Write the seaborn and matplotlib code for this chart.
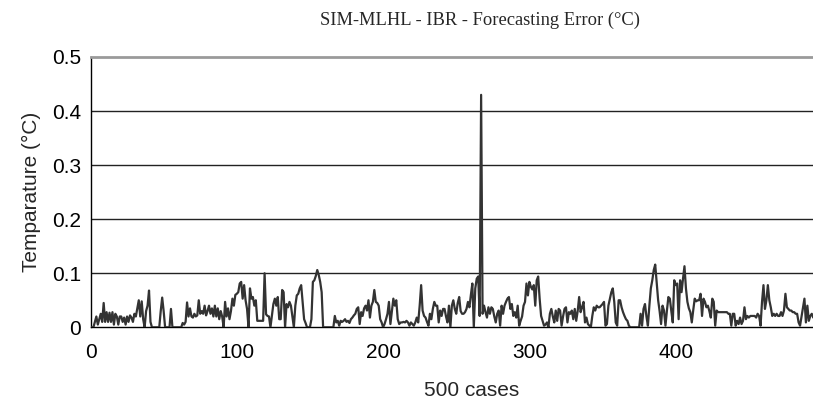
import numpy as np
import pandas as pd
import matplotlib
matplotlib.use("Agg")
import matplotlib.pyplot as plt
import seaborn as sns
from matplotlib.ticker import FixedLocator, FuncFormatter

title = "SIM-MLHL - IBR - Forecasting Error (°C)"
y_label = "Temparature (°C)"
x_label = "500 cases"

err_000_099 = [0, 0, 0, 0.01, 0.02, 0.005, 0.015, 0.025, 0.01, 0.045,
               0.01, 0.028, 0.01, 0.027, 0.01, 0.028, 0.005, 0.025, 0.02, 0.005,
               0.02, 0.02, 0.01, 0.018, 0.005, 0.02, 0.01, 0.022, 0.018, 0.01,
               0.025, 0.02, 0.035, 0.05, 0.02, 0.048, 0.015, 0, 0.03, 0.04,
               0.068, 0.01, 0, 0, 0, 0, 0, 0, 0.03, 0.055,
               0.03, 0, 0, 0, 0, 0.034, 0, 0, 0, 0,
               0, 0, 0, 0.008, 0.005, 0.01, 0.046, 0.02, 0.035, 0.02,
               0.018, 0.025, 0.02, 0.022, 0.05, 0.025, 0.03, 0.025, 0.04, 0.022,
               0.03, 0.04, 0.025, 0.035, 0.02, 0.04, 0.02, 0.035, 0.015, 0.03,
               0.02, 0, 0.047, 0.02, 0.035, 0.015, 0.03, 0.053, 0.04, 0.06]
err_100_199 = [0.062, 0.065, 0.081, 0.084, 0.053, 0.078, 0.05, 0.034, 0, 0.072,
               0.053, 0.056, 0.04, 0.05, 0.012, 0.012, 0.012, 0.012, 0.012, 0.1,
               0.024, 0.021, 0.02, 0, 0.021, 0.043, 0.053, 0.04, 0.056, 0.015,
               0.015, 0.069, 0.065, 0, 0.043, 0.037, 0.047, 0.04, 0.02, 0,
               0.04, 0.059, 0.062, 0.072, 0.078, 0.047, 0.015, 0.008, 0, 0,
               0, 0.015, 0.084, 0.087, 0.095, 0.106, 0.097, 0.084, 0.065, 0,
               0, 0, 0, 0, 0, 0, 0, 0.021, 0.009, 0.012,
               0.003, 0.012, 0.01, 0.012, 0.015, 0.01, 0.012, 0.008, 0.015, 0.018,
               0.022, 0.025, 0.034, 0.037, 0.006, 0.028, 0.021, 0.035, 0.04, 0.031,
               0.05, 0.018, 0.04, 0.047, 0.069, 0.047, 0.045, 0.04, 0.015, 0.009]
err_200_299 = [0, 0.006, 0.015, 0.025, 0.047, 0.006, 0.03, 0.053, 0.04, 0.05,
               0.015, 0.006, 0.009, 0.009, 0.01, 0.009, 0.012, 0.009, 0.003, 0.009,
               0.006, 0.003, 0.009, 0.018, 0.009, 0.04, 0.078, 0.031, 0.021, 0.018,
               0.01, 0.003, 0.025, 0.015, 0.034, 0.047, 0.04, 0.04, 0.009, 0.031,
               0.021, 0.034, 0.034, 0.02, 0.009, 0.04, 0, 0.04, 0.05, 0.034,
               0.025, 0.045, 0.056, 0.03, 0.025, 0.025, 0.028, 0.034, 0.047, 0.037,
               0.06, 0.081, 0, 0.072, 0.09, 0.094, 0.021, 0.43, 0.025, 0.04,
               0.028, 0.018, 0.037, 0.025, 0.037, 0.034, 0.02, 0.009, 0.025, 0.031,
               0.003, 0.04, 0.025, 0.04, 0.047, 0.053, 0.056, 0.034, 0.043, 0.021,
               0.028, 0.018, 0.04, 0.003, 0.012, 0.02, 0.04, 0.047, 0.081, 0.059]
err_300_399 = [0.084, 0.075, 0.07, 0.078, 0.04, 0.087, 0.094, 0.053, 0.021, 0.012,
               0.003, 0.005, 0.009, 0, 0.025, 0.034, 0.02, 0.009, 0.031, 0.012,
               0.034, 0.031, 0.003, 0.02, 0.034, 0.037, 0.009, 0.028, 0.025, 0.031,
               0.015, 0.034, 0.012, 0.03, 0.056, 0.028, 0.037, 0.047, 0.009, 0.018,
               0.006, 0.003, 0, 0.021, 0.037, 0.031, 0.04, 0.037, 0.037, 0.04,
               0.043, 0.047, 0.003, 0.006, 0.04, 0.053, 0.065, 0.072, 0.047, 0.009,
               0.003, 0.05, 0.05, 0.037, 0.028, 0.021, 0.015, 0.012, 0.003, 0,
               0, 0, 0, 0, 0, 0, 0.025, 0.003, 0.034, 0.043,
               0.02, 0.003, 0.04, 0.072, 0.087, 0.106, 0.116, 0.084, 0.05, 0.03,
               0.006, 0.04, 0.031, 0.003, 0.031, 0.056, 0.053, 0.03, 0.009, 0.087]
err_400_494 = [0.078, 0.081, 0.015, 0.087, 0.065, 0.09, 0.113, 0.072, 0.047, 0.035,
               0.028, 0.009, 0.032, 0.053, 0.048, 0.05, 0.05, 0.062, 0.021, 0.053,
               0.047, 0.037, 0.04, 0.03, 0.018, 0.053, 0.047, 0.003, 0.031, 0.028,
               0.028, 0.028, 0.028, 0.028, 0.028, 0.028, 0.025, 0.025, 0.003, 0.025,
               0.025, 0.003, 0.012, 0.006, 0.018, 0.006, 0.012, 0.037, 0.015, 0.021,
               0.018, 0.021, 0.021, 0.021, 0.021, 0.018, 0.025, 0.021, 0.003, 0.047,
               0.078, 0.034, 0.05, 0.078, 0.05, 0.037, 0.021, 0.025, 0.021, 0.025,
               0.021, 0.021, 0.028, 0.021, 0.031, 0.062, 0.037, 0.034, 0.031, 0.031,
               0.028, 0.028, 0.025, 0.025, 0.009, 0.003, 0.02, 0.037, 0.053, 0.009,
               0.04, 0.012, 0.021, 0.025, 0.018]

errors = err_000_099 + err_100_199 + err_200_299 + err_300_399 + err_400_494
cases = list(range(len(errors)))

y_ticks = [0, 0.1, 0.2, 0.3, 0.4, 0.5]
y_tick_labels = ["0", "0.1", "0.2", "0.3", "0.4", "0.5"]
x_ticks = [0, 50, 100, 150, 200, 250, 300, 350, 400, 450]

df = pd.DataFrame({"case": cases, "error": errors})

sns.set_style("white")
plt.rcParams['font.family'] = ['Liberation Sans', 'DejaVu Sans']

fig = plt.figure(figsize=(8.13, 4.08), dpi=100)
left_px, bottom_px, top_px = 90.5, 327.3, 57.0
ax = fig.add_axes([left_px / 813, 1 - bottom_px / 408, 1 - left_px / 813, (bottom_px - top_px) / 408])

for yv in y_ticks[1:-1]:
    ax.axhline(yv, color="#222222", lw=1.0, zorder=1)

sns.lineplot(data=df, x="case", y="error", ax=ax, color="#333333", lw=1.6, zorder=3)

ax.set_xlim(0, (813 - left_px) / 1.463)
ax.set_ylim(0, 0.5)

ax.yaxis.set_major_locator(FixedLocator(y_ticks))
ax.set_yticklabels(y_tick_labels)
ax.xaxis.set_major_locator(FixedLocator(x_ticks))
ax.xaxis.set_major_formatter(FuncFormatter(lambda v, p: f"{int(v)}" if int(v) % 100 == 0 else ""))

ax.tick_params(axis="both", direction="out", labelsize=15, colors="black")
ax.tick_params(axis="x", length=5, width=1, pad=6)
ax.tick_params(axis="y", length=4, width=1, pad=3)

for side in ["left", "bottom"]:
    ax.spines[side].set_visible(True)
    ax.spines[side].set_color("black")
    ax.spines[side].set_linewidth(1.0)
ax.spines["right"].set_visible(False)
ax.spines["top"].set_visible(True)
ax.spines["top"].set_color("#9a9a9a")
ax.spines["top"].set_linewidth(2.0)

ax.set_ylabel(y_label, fontsize=15, labelpad=8)
ax.set_xlabel("")
fig.text(472 / 813, 1 - 390 / 408, x_label, fontsize=15, ha="center", va="center")
fig.text(480 / 813, 1 - 20 / 408, title, fontsize=13.3, ha="center", va="center",
         family=["Liberation Serif", "DejaVu Serif"])

fig.savefig("out.png", dpi=100)
